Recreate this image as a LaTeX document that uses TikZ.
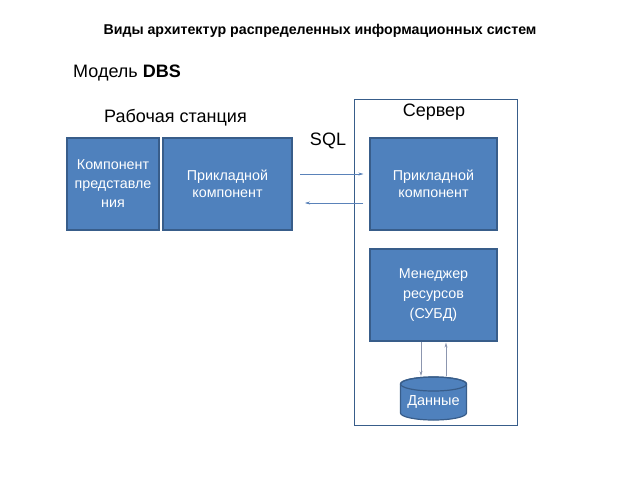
\documentclass[tikz,border=0pt]{standalone}
\usepackage{fontspec}
\setmainfont{Liberation Sans}
\usetikzlibrary{arrows.meta}
\definecolor{boxfill}{RGB}{79,129,189}
\definecolor{boxline}{RGB}{56,93,138}
\definecolor{arr}{RGB}{90,130,185}
\definecolor{varr}{RGB}{140,150,175}
\tikzset{
  blk/.style={draw=boxline, line width=1.2pt, fill=boxfill, text=white, align=center, font=\fontsize{14.3}{17}\selectfont, inner sep=0pt},
  lbl/.style={font=\fontsize{18}{21}\selectfont, inner sep=0pt},
  conn/.style={draw=arr, line width=0.5pt, -{Stealth[length=5pt,width=3pt]}},
  vconn/.style={draw=varr, line width=0.6pt, -{Stealth[length=5pt,width=3pt]}}
}
\begin{document}
\begin{tikzpicture}[x=1pt,y=-1pt]
\useasboundingbox (0,0) rectangle (640,480);
\node[font=\fontsize{14.2}{16}\selectfont\bfseries, inner sep=0pt] (title) at (320,31) {Виды архитектур распределенных информационных систем};
\node[lbl, anchor=west] (model) at (73,73) {Модель \textbf{DBS}};
\node[lbl, anchor=west] (ws) at (104,118) {Рабочая станция};
\node[draw=boxline, line width=1.2pt, minimum width=163pt, minimum height=326pt, anchor=north west, inner sep=0pt] (server) at (354,99) {};
\node[lbl] (srvlbl) at (434,112) {Сервер};
\node[lbl] (sql) at (328,141) {SQL};
\node[blk, minimum width=92pt, minimum height=92pt, font=\fontsize{14.3}{19}\selectfont] (pres) at (113,184) {Компонент\\представле\\ния};
\node[blk, minimum width=129pt, minimum height=92pt] (app1) at (227.5,184) {Прикладной\\компонент};
\node[blk, minimum width=127pt, minimum height=92pt] (app2) at (433.5,184) {Прикладной\\компонент};
\node[blk, minimum width=127pt, minimum height=92pt, font=\fontsize{14.3}{20}\selectfont] (rm) at (433.5,295) {Менеджер\\ресурсов\\(СУБД)};
% cylinder "Данные"
\path[draw=boxline, line width=1.2pt, fill=boxfill] (400.5,384) -- (400.5,413) arc (180:0:33 and 7) -- (466.5,384) arc (0:-180:33 and 7) -- cycle;
\draw[boxline, line width=1.2pt] (433.5,384) ellipse (33 and 7);
\node[text=white, font=\fontsize{14.5}{17}\selectfont, inner sep=0pt] (data) at (433.5,402) {Данные};
\coordinate (dtop) at (433.5,376);
\coordinate (a1s) at (300,174);
\coordinate (a2e) at (305,203);
\draw[conn] (a1s) -- ([xshift=-6pt]a1s -| app2.west);
\draw[conn] ([xshift=-6pt]a2e -| app2.west) -- (a2e);
\draw[vconn] ([xshift=-12.5pt]rm.south) -- ([xshift=-12.5pt]dtop);
\draw[vconn] ([xshift=12.5pt]dtop) -- ([xshift=12.5pt,yshift=-1pt]rm.south);
\end{tikzpicture}
\end{document}
